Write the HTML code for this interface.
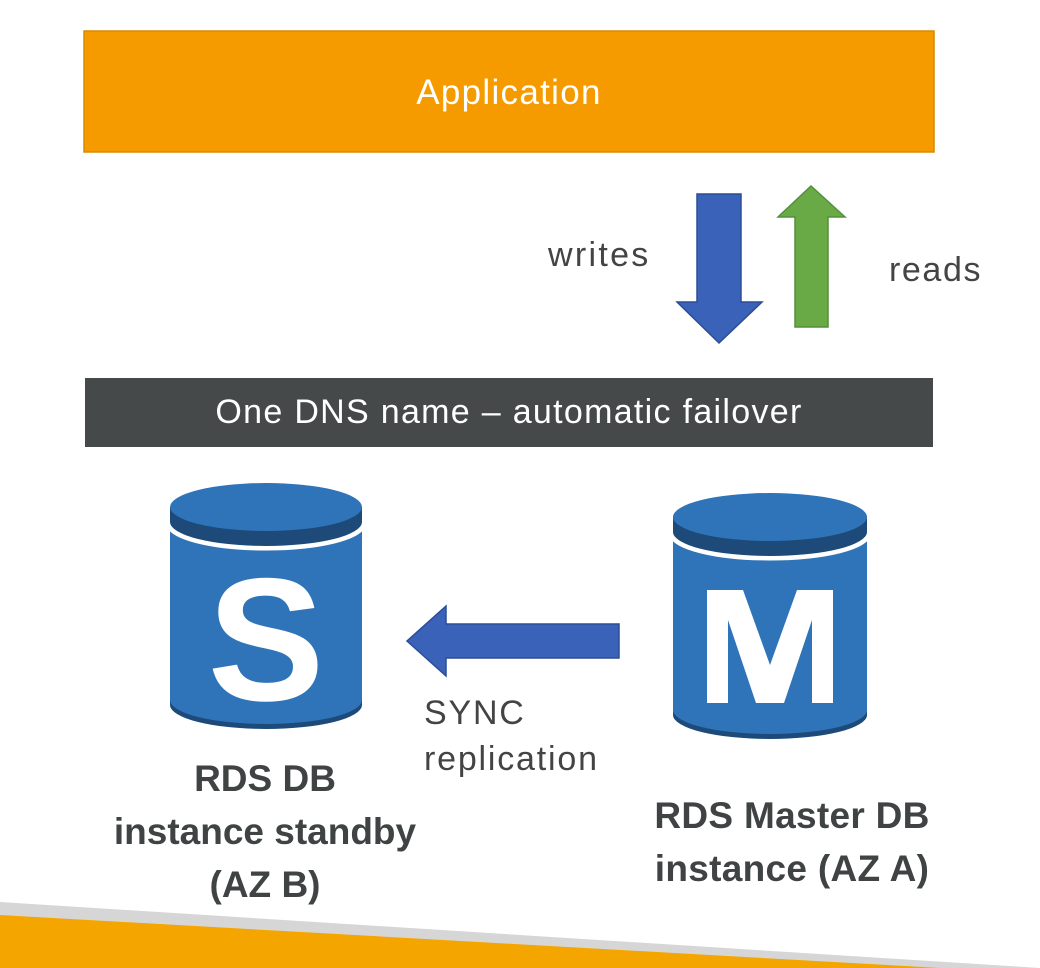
<!DOCTYPE html>
<html><head><style>
body{margin:0;width:1040px;height:968px;background:#fff;overflow:hidden;position:relative;font-family:"Liberation Sans",sans-serif}
.t{position:absolute;color:#444;font-size:34px;letter-spacing:1.8px}
.b{position:absolute;color:#3f4344;font-size:37px;font-weight:bold;text-align:center;line-height:53px}
</style></head><body>
<svg width="1040" height="968" style="position:absolute;left:0;top:0">
<rect x="84" y="31" width="850" height="121" fill="#f59b00" stroke="#d88a00" stroke-width="1.5"/>
<rect x="85" y="378" width="848" height="69" fill="#454949"/>
<polygon points="0,902 1040,968 0,968" fill="#d6d6d6"/>
<polygon points="0,915 940,968 0,968" fill="#f5a500"/>
<polygon points="697,194 741,194 741,302 762,302 719,343 677,302 697,302" fill="#3a62b8" stroke="#2b4d96" stroke-width="1.5"/>
<polygon points="795,327 828,327 828,217 845,217 811,186 778,217 795,217" fill="#6aaa46" stroke="#52903a" stroke-width="1.5"/>
<polygon points="619,624 619,658 446,658 446,676 407,641 446,606 446,624" fill="#3a62b8" stroke="#2b4d96" stroke-width="1.5"/>
<g>
<path d="M170,705 A96,24 0 0 0 362,705 L362,690 L170,690Z" fill="#1d4a78"/>
<path d="M170,527 L362,527 L362,700 A96,24 0 0 1 170,700Z" fill="#2f74b8"/>
<path d="M170,522 A96,24 0 0 0 362,522" fill="none" stroke="#fff" stroke-width="9"/>
<path d="M170,507 L170,522 A96,24 0 0 0 362,522 L362,507Z" fill="#1d4a78"/>
<ellipse cx="266" cy="507" rx="96" ry="24" fill="#2f74b8"/>
<text x="266" y="700" text-anchor="middle" font-family="Liberation Sans" font-weight="bold" font-size="175" fill="#fff">S</text>
</g>
<g>
<path d="M673,715 A97,24 0 0 0 867,715 L867,700 L673,700Z" fill="#1d4a78"/>
<path d="M673,537 L867,537 L867,710 A97,24 0 0 1 673,710Z" fill="#2f74b8"/>
<path d="M673,532 A97,24 0 0 0 867,532" fill="none" stroke="#fff" stroke-width="9"/>
<path d="M673,517 L673,532 A97,24 0 0 0 867,532 L867,517Z" fill="#1d4a78"/>
<ellipse cx="770" cy="517" rx="97" ry="24" fill="#2f74b8"/>
<polygon points="707,590 743,590 770,665 797,590 833,590 833,703 812,703 812,620 784,703 756,703 728,620 728,703 707,703" fill="#fff"/>
</g>
</svg>
<div class="t" style="left:84px;width:850px;top:73px;text-align:center;color:#fff;font-size:35px;letter-spacing:1.3px">Application</div>
<div class="t" style="left:85px;width:848px;top:393px;text-align:center;color:#fff;font-size:34px;letter-spacing:1.3px">One DNS name – automatic failover</div>
<div class="t" style="left:548px;top:236px;letter-spacing:2.3px">writes</div>
<div class="t" style="left:889px;top:251px;letter-spacing:1.6px">reads</div>
<div class="t" style="left:424px;top:690px;line-height:46px">SYNC<br>replication</div>
<div class="b" style="left:90px;width:350px;top:752px">RDS DB<br>instance standby<br>(AZ B)</div>
<div class="b" style="left:617px;width:350px;top:789px;letter-spacing:0.3px">RDS Master DB<br>instance (AZ A)</div>
</body></html>
